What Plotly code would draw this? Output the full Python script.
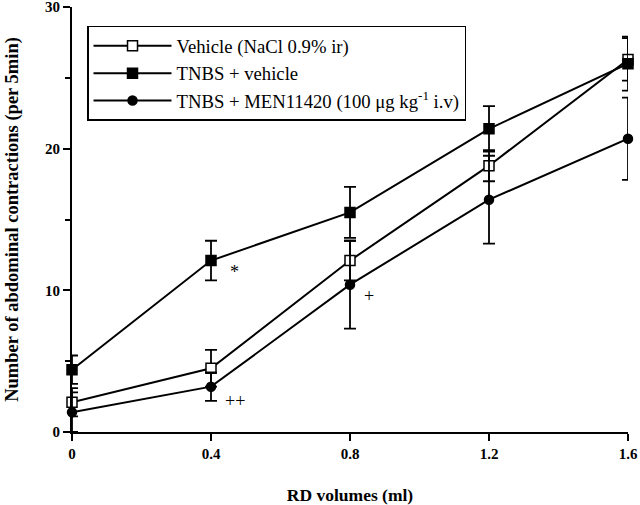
import plotly.graph_objects as go

volumes = [0, 0.4, 0.8, 1.2, 1.6]
vehicle = [2.1, 4.5, 12.1, 18.8, 26.3]
vehicle_err = [1.0, 1.3, 1.4, 1.1, 1.5]
tnbs = [4.4, 12.1, 15.5, 21.4, 26.0]
tnbs_err = [1.0, 1.4, 1.8, 1.6, 1.9]
men = [1.4, 3.2, 10.4, 16.4, 20.7]
men_err = [1.4, 1.0, 3.1, 3.1, 2.9]

names = ["Vehicle (NaCl 0.9% ir)", "TNBS + vehicle",
         "TNBS + MEN11420 (100 μg kg<sup>-1</sup> i.v)"]

font = "Liberation Serif, Times New Roman, serif"

fig = go.Figure()

def add(y, err, name, symbol, fill, size, grp):
    fig.add_trace(go.Scatter(
        x=volumes, y=y, name=name, mode="lines+markers",
        legendgroup=grp,
        line=dict(color="black", width=2),
        marker=dict(symbol=symbol, size=size, color=fill,
                    line=dict(color="black", width=1.5)),
        error_y=dict(type="data", array=err, color="black",
                     thickness=1.8, width=6),
        cliponaxis=False,
    ))

add(vehicle, vehicle_err, names[0], "square", "white", 10, "a")
add(tnbs, tnbs_err, names[1], "square", "black", 10, "b")
add(men, men_err, names[2], "circle", "black", 9, "c")

fig.add_annotation(x=0.467, y=11.3, text="*", showarrow=False,
                   font=dict(family=font, size=18, color="black"))
fig.add_annotation(x=0.855, y=9.6, text="+", showarrow=False,
                   font=dict(family=font, size=18, color="black"))
fig.add_annotation(x=0.47, y=2.2, text="++", showarrow=False,
                   font=dict(family=font, size=18, color="black"))

fig.update_layout(
    width=640, height=505,
    margin=dict(l=72, r=12, t=7, b=73),
    plot_bgcolor="white", paper_bgcolor="white",
    font=dict(family=font, color="black"),
    showlegend=True,
    legend=dict(x=0.027, y=0.956, xanchor="left", yanchor="top",
                bordercolor="black", borderwidth=1.5, bgcolor="white",
                font=dict(family=font, size=18.7, color="black"),
                itemwidth=78, tracegroupgap=2,
                traceorder="normal"),
    xaxis=dict(range=[0, 1.6], tickvals=volumes,
               ticktext=["0", "0.4", "0.8", "1.2", "1.6"],
               automargin=False,
               showgrid=False, zeroline=False, showline=True,
               linecolor="black", linewidth=2, ticks="outside",
               ticklen=7, tickwidth=1.5, tickcolor="black",
               ticklabeloverflow="allow",
               tickfont=dict(family=font, size=15, color="black", weight="bold"),
               title=dict(text="<b>RD volumes (ml)</b>",
                          font=dict(family=font, size=17.5, color="black"),
                          standoff=28)),
    yaxis=dict(range=[0, 30], tickvals=[0, 10, 20, 30],
               automargin=False,
               showgrid=False, zeroline=False, showline=True,
               linecolor="black", linewidth=2, ticks="outside",
               ticklen=7, tickwidth=1.5, tickcolor="black",
               ticklabeloverflow="allow",
               minor=dict(tickvals=[5, 15, 25], ticks="outside", ticklen=5,
                          tickwidth=1.5, tickcolor="black"),
               tickfont=dict(family=font, size=15, color="black", weight="bold"),
               title=dict(text="<b>Number of abdominal contractions (per 5min)</b>",
                          font=dict(family=font, size=18.5, color="black"),
                          standoff=22)),
)

fig.write_html("out.html", config={"displayModeBar": False},
               post_script="document.body.style.margin='0';")
